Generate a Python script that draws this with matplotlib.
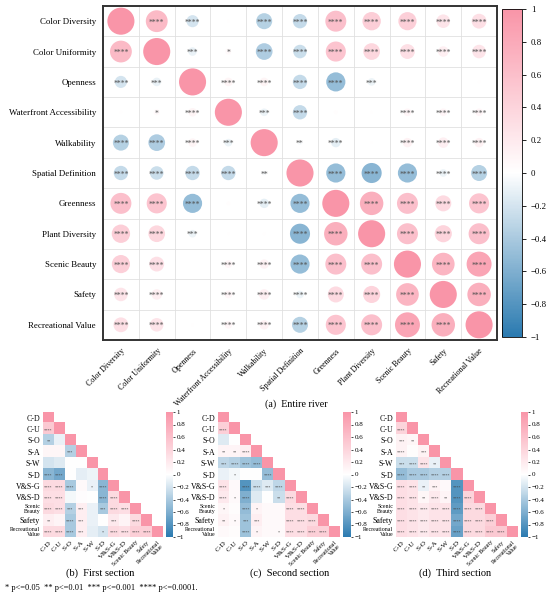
import numpy as np
import matplotlib
matplotlib.use('Agg')
import matplotlib.pyplot as plt
from matplotlib.colors import LinearSegmentedColormap

plt.rcParams['font.family'] = ['Liberation Serif', 'DejaVu Serif']

# ---- data ----
long_names = ['Color Diversity', 'Color Uniformity', 'Openness', 'Waterfront Accessibility',
              'Walkability', 'Spatial Definition', 'Greenness', 'Plant Diversity',
              'Scenic Beauty', 'Safety', 'Recreational Value']
short_names = ['C-D', 'C-U', 'S-O', 'S-A', 'S-W', 'S-D', 'V&S-G', 'V&S-D',
               'Scenic\nBeauty', 'Safety', 'Recreational\nValue']
short_xnames = ['C-D', 'C-U', 'S-O', 'S-A', 'S-W', 'S-D', 'V&S-G', 'V&S-D',
                'Scenic Beauty', 'Safety', 'Recreational\nValue']

# lower triangle rows (row i holds columns 0..i-1), diagonal = 1
entire_r = [
    [],
    [0.65],
    [-0.2, -0.1],
    [0.01, 0.05, 0.1],
    [-0.35, -0.38, 0.1, -0.08],
    [-0.28, -0.25, -0.28, -0.28, -0.03],
    [0.6, 0.55, -0.5, 0.02, -0.12, -0.5],
    [0.46, 0.38, -0.08, 0.01, 0.01, -0.55, 0.75],
    [0.45, 0.3, 0.0, 0.08, 0.12, -0.5, 0.6, 0.6],
    [0.25, 0.15, 0.0, 0.08, 0.15, -0.08, 0.35, 0.4, 0.7],
    [0.3, 0.25, 0.01, 0.08, 0.12, -0.35, 0.55, 0.6, 0.85, 0.75],
]
entire_stars = [
    [],
    [4],
    [4, 3],
    [0, 1, 4],
    [4, 4, 4, 3],
    [4, 4, 4, 4, 2],
    [4, 4, 4, 0, 4, 4],
    [4, 4, 3, 0, 0, 4, 4],
    [4, 4, 0, 4, 4, 4, 4, 4],
    [4, 4, 0, 4, 4, 4, 4, 4, 4],
    [4, 4, 0, 4, 4, 4, 4, 4, 4, 4],
]

first_r = [
    [],
    [0.5],
    [-0.35, -0.1],
    [0.08, 0.08, -0.35],
    [-0.2, -0.15, 0.0, 0.0],
    [-0.55, -0.65, 0.0, -0.12, -0.08],
    [0.35, 0.35, -0.4, 0.05, -0.1, -0.55],
    [0.3, 0.3, -0.05, 0.02, 0.0, -0.55, 0.35],
    [0.35, 0.3, -0.35, 0.15, -0.1, -0.4, 0.35, 0.3],
    [0.15, 0.1, -0.4, 0.15, -0.1, 0.0, 0.2, 0.1, 0.35],
    [0.35, 0.35, -0.4, 0.15, -0.12, -0.2, 0.35, 0.3, 0.45, 0.45],
]
first_stars = [
    [],
    [4],
    [2, 0],
    [0, 0, 3],
    [0, 0, 0, 0],
    [4, 4, 0, 0, 0],
    [4, 4, 4, 0, 1, 4],
    [4, 4, 0, 0, 0, 4, 4],
    [4, 4, 3, 3, 0, 3, 4, 4],
    [2, 0, 4, 3, 0, 0, 3, 0, 4],
    [4, 4, 4, 3, 0, 1, 4, 4, 4, 4],
]

second_r = [
    [],
    [0.45],
    [-0.15, 0.0],
    [0.1, 0.1, 0.15],
    [-0.3, -0.35, -0.45, -0.5],
    [-0.1, -0.05, 0.0, 0.0, -0.5],
    [0.25, 0.05, -0.8, -0.25, -0.15, -0.3],
    [0.2, 0.05, -0.6, -0.15, 0.0, -0.25, 0.35],
    [0.08, 0.03, -0.5, 0.1, 0.05, 0.05, 0.3, 0.3],
    [0.12, 0.05, -0.45, 0.15, 0.05, 0.05, 0.3, 0.3, 0.35],
    [0.05, 0.03, -0.45, 0.1, 0.05, 0.05, 0.3, 0.3, 0.45, 0.45],
]
second_stars = [
    [],
    [4],
    [0, 0],
    [2, 2, 4],
    [3, 4, 4, 4],
    [0, 1, 0, 0, 4],
    [4, 0, 4, 4, 3, 4],
    [4, 1, 4, 0, 0, 2, 4],
    [1, 0, 4, 1, 0, 0, 4, 4],
    [2, 1, 3, 3, 0, 0, 4, 4, 4],
    [0, 0, 4, 1, 0, 1, 4, 4, 4, 4],
]

third_r = [
    [],
    [0.4],
    [0.12, 0.08],
    [0.12, 0.03, 0.12],
    [-0.25, -0.25, 0.25, -0.1],
    [-0.5, -0.4, -0.4, -0.35, -0.35],
    [0.3, 0.25, -0.1, 0.12, 0.05, -0.8],
    [0.3, 0.25, 0.08, 0.2, 0.1, -0.8, 0.4],
    [0.3, 0.25, 0.2, 0.25, 0.25, -0.75, 0.35, 0.35],
    [0.3, 0.25, 0.2, 0.25, 0.25, -0.65, 0.35, 0.35, 0.45],
    [0.3, 0.25, 0.2, 0.25, 0.25, -0.7, 0.35, 0.35, 0.5, 0.5],
]
third_stars = [
    [],
    [4],
    [3, 2],
    [4, 0, 3],
    [3, 4, 4, 2],
    [4, 4, 4, 4, 4],
    [4, 4, 2, 3, 0, 4],
    [4, 4, 2, 4, 2, 4, 4],
    [4, 4, 4, 4, 4, 4, 4, 4],
    [4, 4, 4, 4, 4, 4, 4, 4, 4],
    [4, 4, 4, 4, 4, 4, 4, 4, 4, 4],
]

cbar_ticks = [1, 0.8, 0.6, 0.4, 0.2, 0, -0.2, -0.4, -0.6, -0.8, -1]

cmap = LinearSegmentedColormap.from_list('bwp', ['#2a7ab0', '#ffffff', '#f995a8'])


def build(tri_r, tri_s):
    n = len(tri_r)
    r = np.eye(n)
    s = np.zeros((n, n), dtype=int)
    for i in range(n):
        for j, v in enumerate(tri_r[i]):
            r[i, j] = r[j, i] = v
            s[i, j] = s[j, i] = tri_s[i][j]
    return r, s


W, H = 550, 600


def box(x0, y0, x1, y1):
    return [x0 / W, 1 - y1 / H, (x1 - x0) / W, (y1 - y0) / H]


def minus(t):
    return f'{t:g}'.replace('-', '\u2212')


fig = plt.figure(figsize=(5.5, 6), dpi=100)

# ---- (a) entire river: circle matrix ----
r, s = build(entire_r, entire_stars)
n = len(long_names)
ax = fig.add_axes(box(103, 6, 497, 340))
xx, yy = np.meshgrid(np.arange(n), np.arange(n))
sc = ax.scatter(xx.ravel(), yy.ravel(), s=np.abs(r).ravel() * 380, c=r.ravel(),
                cmap=cmap, vmin=-1, vmax=1, edgecolors='none', zorder=2)
for i in range(n):
    for j in range(n):
        if i != j and s[i, j] > 0:
            ax.text(j, i + 0.05, '*' * s[i, j], ha='center', va='center',
                    fontsize=5.5, color='#505050', zorder=3)
for k in np.arange(-0.5, n, 1):
    ax.axhline(k, color='#e0e0e0', lw=0.6, zorder=1)
    ax.axvline(k, color='#e0e0e0', lw=0.6, zorder=1)
ax.set_xlim(-0.5, n - 0.5)
ax.set_ylim(n - 0.5, -0.5)
ax.set_xticks(range(n))
ax.set_yticks(range(n))
ax.set_xticklabels(long_names, rotation=45, ha='right', va='top',
                   rotation_mode='anchor', fontsize=5.8)
ax.set_yticklabels(long_names, fontsize=6.4)
ax.tick_params(length=0, pad=5)
for sp in ax.spines.values():
    sp.set_linewidth(1.4)
    sp.set_color('#333333')

cax = fig.add_axes(box(502, 9, 522, 337))
cb = fig.colorbar(sc, cax=cax, ticks=cbar_ticks)
cb.ax.tick_params(labelsize=6.3, length=3, width=0.6)
cb.ax.set_yticklabels([minus(t) for t in cbar_ticks])
cb.outline.set_linewidth(0.6)
fig.text(296 / W, 1 - 404 / H, '(a)  Entire river', ha='center', va='center', fontsize=7.2)

# ---- (b)(c)(d) section heatmaps ----
panels = [
    (first_r, first_stars, 43, 163, 166, 173, '(b)  First section', 100),
    (second_r, second_stars, 218, 340, 343, 351, '(c)  Second section', 290),
    (third_r, third_stars, 396, 518, 521, 528, '(d)  Third section', 455),
]
for tri_r, tri_s, x0, x1, c0, c1, title, tx in panels:
    r, s = build(tri_r, tri_s)
    m = np.ma.masked_where(np.triu(np.ones_like(r), 1) > 0, r)
    hx = fig.add_axes(box(x0, 412, x1, 537))
    im = hx.imshow(m, cmap=cmap, vmin=-1, vmax=1, aspect='auto')
    for i in range(n):
        for j in range(i):
            if s[i, j] > 0:
                hx.text(j, i + 0.1, '*' * s[i, j], ha='center', va='center',
                        fontsize=3, color='#444444')
    hx.set_xticks(range(n))
    hx.set_yticks(range(n))
    hx.set_xticklabels(short_xnames, rotation=45, ha='right', va='top',
                       rotation_mode='anchor', fontsize=5.3)
    hx.set_yticklabels(short_names, fontsize=5.7)
    for lab in hx.get_yticklabels()[8:9] + hx.get_yticklabels()[10:11]:
        lab.set_fontsize(4.2)
        lab.set_linespacing(0.95)
    for lab in hx.get_xticklabels()[8:]:
        lab.set_fontsize(4.2)
        lab.set_linespacing(0.95)
    hx.tick_params(length=0, pad=2)
    for sp in hx.spines.values():
        sp.set_visible(False)

    cx = fig.add_axes(box(c0, 412, c1, 537))
    cbs = fig.colorbar(im, cax=cx, ticks=cbar_ticks)
    cbs.ax.tick_params(labelsize=5, length=1.5, width=0.5, pad=1)
    cbs.ax.set_yticklabels([minus(t) for t in cbar_ticks])
    cbs.outline.set_visible(False)
    fig.text(tx / W, 1 - 573 / H, title, ha='center', va='center', fontsize=7.5)

fig.text(5 / W, 1 - 588 / H,
         '* p<=0.05  ** p<=0.01  *** p<=0.001  **** p<=0.0001.',
         ha='left', va='center', fontsize=6)

fig.savefig('out.png', dpi=100)
